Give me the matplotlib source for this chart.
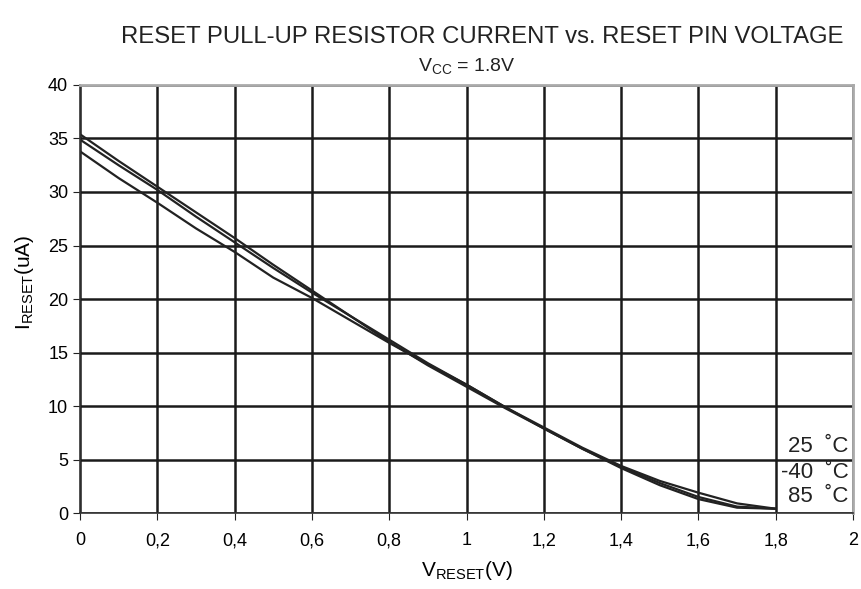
import matplotlib
matplotlib.use("Agg")
import matplotlib.pyplot as plt

plt.rcParams["font.family"] = ["Liberation Sans", "DejaVu Sans"]
plt.rcParams["mathtext.fontset"] = "custom"
plt.rcParams["mathtext.rm"] = "Liberation Sans"

# data
v_reset = [0.0, 0.1, 0.2, 0.3, 0.4, 0.5, 0.6, 0.7, 0.8, 0.9, 1.0,
           1.1, 1.2, 1.3, 1.4, 1.5, 1.6, 1.7, 1.8]
i_25 = [35.4, 32.9, 30.5, 28.1, 25.7, 23.2, 20.8, 18.4, 16.0, 13.8, 11.8,
        9.8, 7.9, 6.0, 4.2, 2.6, 1.3, 0.5, 0.4]
i_m40 = [34.9, 32.5, 30.2, 27.7, 25.3, 22.9, 20.6, 18.4, 16.2, 14.0, 12.0,
         9.9, 7.9, 6.0, 4.3, 2.8, 1.5, 0.6, 0.4]
i_85 = [33.8, 31.3, 29.0, 26.6, 24.4, 22.0, 20.1, 18.0, 15.9, 13.9, 12.0,
        9.9, 8.0, 6.1, 4.4, 3.0, 1.9, 0.9, 0.4]
labels = ["25  ˚C", "-40  ˚C", "85  ˚C"]
label_y = [6.2, 3.75, 1.55]

fig = plt.figure(figsize=(8.62, 5.89), dpi=100)
ax = fig.add_axes([0.0928, 0.129, 0.8968, 0.7267])

for ys in (i_25, i_m40, i_85):
    ax.plot(v_reset, ys, color="#222222", lw=1.6)

ax.set_xlim(0, 2)
ax.set_ylim(0, 40)
ax.set_xticks([i * 0.2 for i in range(11)])
ax.set_xticklabels(["0", "0,2", "0,4", "0,6", "0,8", "1", "1,2", "1,4",
                    "1,6", "1,8", "2"], fontsize=13)
ax.set_yticks(range(0, 45, 5))
ax.tick_params(axis="y", labelsize=13)
ax.tick_params(direction="out", length=5, color="#222222")
ax.tick_params(axis="x", pad=9)
ax.grid(True, color="#1a1a1a", lw=1.8)
ax.set_axisbelow(True)

for side in ("top", "right"):
    ax.spines[side].set_color("#aaaaaa")
    ax.spines[side].set_linewidth(2)
for side in ("left", "bottom"):
    ax.spines[side].set_color("#333333")
    ax.spines[side].set_linewidth(1.2)

for txt, y in zip(labels, label_y):
    ax.text(1.988, y, txt, ha="right", va="center", fontsize=16,
            color="#222222")

ax.set_xlabel(r"V$_{\mathregular{RESET}}$(V)", fontsize=15, labelpad=7)
ax.set_ylabel(r"I$_{\mathregular{RESET}}$(uA)", fontsize=15)
ax.yaxis.set_label_coords(-0.057, 0.54)

fig.text(0.56, 0.938, "RESET PULL-UP RESISTOR CURRENT vs. RESET PIN VOLTAGE",
         ha="center", va="center", fontsize=17.2, color="#222222")
fig.text(0.542, 0.887, r"V$_{\mathregular{CC}}$ = 1.8V", ha="center",
         va="center", fontsize=14, color="#222222")

fig.savefig("out.png", dpi=100)
